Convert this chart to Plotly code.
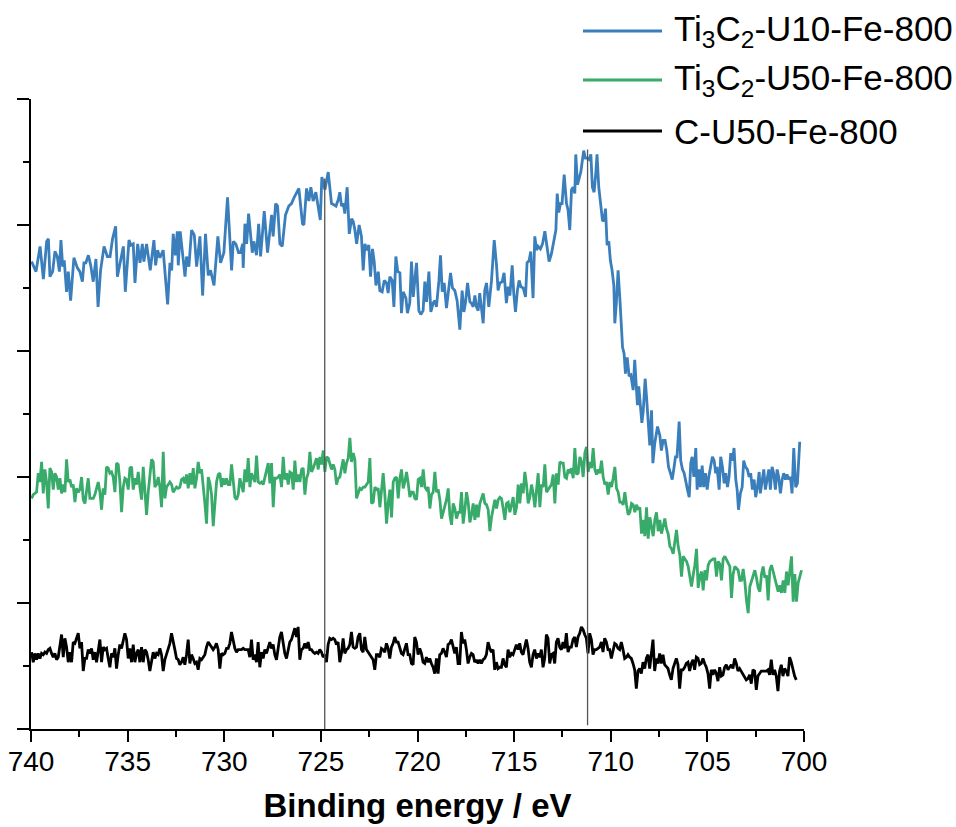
import numpy as np
import plotly.graph_objects as go

# Fe 2p XPS spectra, binding energy in eV, intensity in arbitrary units (stacked)

blue_ev = [
    739.97, 739.74, 739.53, 739.36, 739.19, 739.10, 739.02, 738.88, 738.76, 738.64,
    738.53, 738.45, 738.36, 738.28, 738.16, 738.07, 737.95, 737.78, 737.60, 737.47,
    737.34, 737.26, 737.16, 737.03, 736.91, 736.78, 736.64, 736.53, 736.40, 736.22,
    736.05, 735.91, 735.78, 735.62, 735.53, 735.40, 735.22, 735.12, 734.93, 734.83,
    734.71, 734.62, 734.48, 734.36, 734.24, 734.16, 734.02, 733.83, 733.64, 733.55,
    733.45, 733.33, 733.16, 732.93, 732.81, 732.72, 732.64, 732.53, 732.43, 732.38,
    732.28, 732.03, 731.95, 731.83, 731.69, 731.55, 731.43, 731.26, 731.12, 730.97,
    730.83, 730.71, 730.53, 730.33, 730.19, 730.02, 729.83, 729.62, 729.53, 729.40,
    729.26, 729.16, 729.05, 729.02, 728.93, 728.84, 728.74, 728.55, 728.47, 728.33,
    728.22, 728.12, 727.93, 727.76, 727.55, 727.47, 727.34, 727.24, 727.12, 727.00,
    726.83, 726.66, 726.52, 726.38, 726.14, 725.95, 725.88, 725.74, 725.62, 725.52,
    725.40, 725.26, 725.03, 724.95, 724.79, 724.62,
    724.53, 724.45, 724.33, 724.22, 724.10, 724.02, 723.93, 723.84, 723.76, 723.64,
    723.53, 723.41, 723.33, 723.24, 723.15, 723.02, 722.90, 722.81, 722.72, 722.64,
    722.52, 722.43, 722.33, 722.24, 722.15, 722.03, 721.95, 721.83, 721.72, 721.60,
    721.52, 721.43, 721.31, 721.22, 721.12, 721.02, 720.91, 720.83, 720.74, 720.60,
    720.52, 720.40, 720.31, 720.22, 720.14, 720.05, 719.93, 719.83, 719.71, 719.62,
    719.53, 719.41, 719.31, 719.19, 719.10, 719.02, 718.89, 718.81, 718.72, 718.62,
    718.50, 718.41, 718.29, 718.19, 718.07, 717.95, 717.81, 717.69, 717.60, 717.52,
    717.41, 717.29, 717.21, 717.12, 717.03, 716.95, 716.86, 716.78, 716.69, 716.60,
    716.52, 716.43, 716.31, 716.17, 716.03, 715.91, 715.83, 715.74, 715.62, 715.52,
    715.40, 715.31, 715.22, 715.10, 715.02, 714.93, 714.83, 714.74, 714.65, 714.53,
    714.41, 714.33, 714.22, 714.14, 714.02, 713.93, 713.84, 713.76, 713.64, 713.53,
    713.41, 713.29, 713.19, 713.07, 712.95, 712.84, 712.77, 712.69, 712.60, 712.52,
    712.41, 712.29, 712.21, 712.12, 712.03, 711.95, 711.86, 711.81, 711.72, 711.65,
    711.55, 711.48, 711.40, 711.31, 711.21, 711.12, 711.03, 710.95, 710.86, 710.77,
    710.71, 710.62, 710.52, 710.43, 710.36, 710.27, 710.19, 710.10, 710.02, 709.93,
    709.84, 709.79, 709.71, 709.62, 709.53,
    709.39, 709.31, 709.24, 709.15, 709.05, 708.96, 708.84, 708.76, 708.70, 708.62,
    708.55, 708.46, 708.39, 708.32, 708.22, 708.15, 708.07, 707.98, 707.89, 707.82,
    707.72, 707.58, 707.46, 707.38, 707.29, 707.19, 707.10, 707.01, 706.91, 706.82,
    706.74, 706.65, 706.57, 706.46, 706.38, 706.29, 706.20, 706.12, 706.03, 705.94,
    705.86, 705.79, 705.70, 705.60, 705.53, 705.44, 705.36, 705.27, 705.19, 705.10,
    705.01, 704.93, 704.84, 704.74, 704.65, 704.57, 704.50, 704.39, 704.31, 704.22,
    704.13, 704.05, 703.96, 703.88, 703.79, 703.70, 703.62, 703.53, 703.46, 703.39,
    703.29, 703.20, 703.12, 703.03, 702.93, 702.84, 702.76, 702.67, 702.58, 702.50,
    702.41, 702.32, 702.26, 702.17, 702.08, 702.00, 701.91, 701.82, 701.74, 701.65,
    701.57, 701.48, 701.39, 701.31, 701.22, 701.13, 701.05, 700.96, 700.88, 700.79,
    700.70, 700.62, 700.53, 700.43, 700.34, 700.22,
]

blue_int = [
    3.71, 3.63, 3.83, 3.57, 3.87, 3.89, 3.59, 3.63, 3.79, 3.75,
    3.63, 3.88, 3.67, 3.72, 3.47, 3.63, 3.40, 3.74, 3.66, 3.63,
    3.55, 3.70, 3.70, 3.76, 3.68, 3.55, 3.73, 3.35, 3.64, 3.83,
    3.75, 3.75, 3.89, 3.99, 3.59, 3.70, 3.83, 3.47, 3.88, 3.84,
    3.85, 3.54, 3.85, 3.70, 3.85, 3.71, 3.85, 3.64, 3.88, 3.68,
    3.80, 3.74, 3.80, 3.37, 3.70, 3.64, 3.93, 3.76, 3.95, 3.68,
    3.95, 3.59, 3.75, 3.67, 3.96, 3.92, 3.67, 3.91, 3.44, 3.93,
    3.60, 3.64, 3.52, 3.91, 3.70, 3.78, 4.22, 3.64, 3.87, 3.85,
    3.78, 3.78, 3.85, 3.66, 4.01, 3.85, 4.09, 3.78, 3.87, 3.76,
    4.01, 3.75, 4.11, 3.78, 4.08, 3.91, 4.17, 4.15, 3.85, 3.83,
    4.08, 4.15, 4.17, 4.22, 4.29, 4.01, 4.00, 4.29, 4.19, 4.30,
    4.19, 4.26, 4.04, 4.38, 4.28, 4.42,
    4.28, 4.17, 4.16, 4.15, 4.20, 4.26, 4.15, 4.17, 4.09, 4.30,
    3.93, 4.05, 4.03, 3.96, 3.85, 4.00, 3.91, 3.64, 3.85, 3.80,
    3.84, 3.59, 3.81, 3.71, 3.52, 3.63, 3.48, 3.47, 3.56, 3.54,
    3.46, 3.59, 3.56, 3.35, 3.75, 3.63, 3.62, 3.30, 3.47, 3.42,
    3.30, 3.38, 3.71, 3.43, 3.56, 3.70, 3.32, 3.29, 3.32, 3.55,
    3.39, 3.63, 3.31, 3.38, 3.40, 3.35, 3.56, 3.76, 3.47, 3.54,
    3.34, 3.48, 3.62, 3.50, 3.48, 3.40, 3.17, 3.48, 3.31, 3.38,
    3.54, 3.39, 3.38, 3.35, 3.44, 3.35, 3.32, 3.46, 3.32, 3.22,
    3.48, 3.54, 3.35, 3.56, 3.88, 3.68, 3.48, 3.54, 3.55, 3.62,
    3.38, 3.51, 3.44, 3.68, 3.46, 3.31, 3.48, 3.56, 3.51, 3.50,
    3.43, 3.70, 3.72, 3.79, 3.42, 3.91, 3.80, 3.83, 3.81, 3.85,
    3.95, 3.80, 3.71, 3.77, 3.87, 3.96, 4.25, 4.10, 4.17, 4.17,
    4.40, 4.17, 4.12, 3.96, 4.28, 4.30, 4.25, 4.56, 4.32, 4.37,
    4.42, 4.50, 4.59, 4.53, 4.53, 4.52, 4.56, 4.30, 4.26, 4.42,
    4.56, 4.30, 4.15, 4.04, 4.03, 4.13, 3.84, 3.87, 3.72, 3.64,
    3.52, 3.22, 3.38, 3.64, 3.42,
    3.03, 2.98, 2.82, 2.95, 2.80, 2.81, 2.69, 2.93, 2.74, 2.57,
    2.72, 2.58, 2.43, 2.52, 2.78, 2.64, 2.46, 2.25, 2.53, 2.11,
    2.27, 2.40, 2.33, 2.21, 2.29, 2.29, 2.21, 2.08, 2.03, 1.98,
    2.06, 2.16, 2.16, 2.44, 2.13, 2.06, 2.03, 1.98, 1.90, 1.84,
    2.11, 2.16, 2.00, 2.23, 1.90, 2.06, 1.92, 2.09, 1.92, 2.03,
    1.90, 2.00, 2.08, 2.16, 2.13, 2.03, 2.08, 1.90, 2.16, 2.08,
    1.95, 2.03, 1.92, 2.00, 2.19, 2.13, 2.23, 1.98, 1.90, 1.74,
    1.87, 1.92, 2.13, 2.08, 2.06, 2.00, 2.03, 1.90, 1.98, 1.84,
    1.92, 2.04, 1.87, 1.95, 2.06, 1.90, 2.00, 2.06, 1.90, 2.08,
    2.03, 1.90, 2.06, 2.00, 1.87, 1.98, 2.03, 1.98, 2.02, 1.98,
    2.00, 1.87, 2.23, 1.92, 1.95, 2.28,
]

green_int = [
    1.83, 1.86, 1.87, 1.88, 2.03, 1.96, 2.12, 1.87, 2.06, 1.96,
    1.75, 2.07, 2.04, 1.90, 2.03, 2.00, 1.90, 1.99, 1.87, 1.94,
    1.88, 2.14, 1.96, 1.98, 1.92, 1.94, 1.80, 1.91, 1.88, 1.90,
    2.00, 1.82, 1.79, 1.88, 1.99, 1.83, 1.83, 1.83, 1.86, 1.92,
    1.96, 1.88, 1.74, 1.91, 1.86, 2.08, 2.07, 2.03, 2.04, 2.00,
    1.88, 2.11, 2.10, 1.96, 1.72, 1.92, 1.99, 1.98, 1.90, 2.07,
    2.08, 1.90, 1.99, 1.94, 2.04, 1.92, 1.82, 2.08, 1.88, 1.70,
    1.88, 2.03, 2.14, 2.12, 1.92, 1.94, 2.00, 1.92, 1.76, 2.20,
    1.83, 1.92, 1.94, 1.96, 1.94, 1.88, 1.90, 1.92, 1.91, 1.92,
    1.98, 1.99, 1.95, 2.02, 1.91, 2.03, 1.94, 2.07, 1.91, 1.99,
    2.12, 2.03, 2.06, 1.94, 1.79, 1.63, 2.00, 1.95, 1.86, 1.61,
    1.79, 1.96, 2.02, 2.03, 1.92, 1.99, 1.94, 1.99, 1.94, 1.94,
    2.10, 1.98, 1.84, 1.82, 1.86, 1.99, 1.94, 1.88, 2.06, 1.96,
    2.15, 1.92, 2.03, 1.99, 1.96, 2.17, 1.96, 1.95, 1.96, 1.94,
    1.99, 2.04, 2.11, 1.95, 2.11, 1.76, 1.99, 1.99, 2.00, 2.02,
    1.92, 2.16, 1.98, 2.03, 1.94, 2.04, 2.03, 1.90, 2.13, 1.96,
    2.02, 1.96, 2.06, 2.07, 1.86, 1.99, 2.03, 2.20, 2.04, 2.07,
    2.11, 2.15, 2.06, 2.16, 2.10, 2.21, 2.04, 2.16, 2.15,
    2.11, 2.06, 2.10, 2.06, 1.94, 1.99, 2.00, 2.07, 2.14, 2.03,
    2.11, 2.15, 2.31, 2.12, 2.19, 2.14, 1.83, 1.87, 1.91, 1.90,
    1.92, 1.92, 1.94, 1.96, 2.15, 1.79, 1.80, 1.92, 1.90, 1.91,
    1.76, 1.92, 2.03, 1.86, 1.63, 1.79, 1.90, 1.68, 1.96, 1.99,
    2.00, 1.83, 1.99, 2.06, 1.91, 1.96, 2.04, 1.95, 1.84, 1.88,
    1.88, 1.83, 1.82, 1.98, 1.99, 1.92, 2.06, 1.92, 1.90, 1.92,
    1.75, 1.86, 1.88, 2.04, 1.88, 1.90, 1.82, 1.67, 1.72, 1.75,
    1.82, 1.91, 1.70, 1.62, 1.79, 1.75, 1.67, 1.72, 1.72, 1.88,
    1.63, 1.74, 1.88, 1.80, 1.64, 1.70, 1.79, 1.66, 1.78, 1.68,
    1.79, 1.83, 1.87, 1.79, 1.78, 1.74, 1.57, 1.68, 1.76, 1.82,
    1.75, 1.82, 1.84, 1.83, 1.75, 1.66, 1.79, 1.80, 1.72, 1.79,
    1.84, 1.70, 1.76, 1.94, 1.79, 1.95, 1.87, 2.04, 1.94, 1.79,
    1.84, 1.94, 1.87, 1.76, 1.92, 2.03, 1.76, 1.94, 1.92, 2.10,
    1.88, 1.90, 1.91, 1.94, 2.02, 1.79, 2.03, 1.94, 2.12, 2.11,
    2.11, 2.00, 1.99, 2.06, 2.03, 2.07, 1.99, 2.23, 2.02, 2.03,
    2.16, 2.12, 2.00, 2.19, 2.24, 2.04, 2.12, 2.07, 2.23, 2.06,
    2.02, 2.06, 2.03, 2.13, 2.00, 1.94, 1.96, 1.86, 1.96, 1.92,
    1.99, 2.08, 1.91, 1.88, 1.80, 1.80, 1.78, 1.88, 1.78, 1.70,
    1.72, 1.79, 1.78, 1.72, 1.78, 1.74, 1.76, 1.55, 1.66, 1.53,
    1.76, 1.51, 1.68, 1.59, 1.53, 1.66, 1.72, 1.57, 1.66, 1.55,
    1.61, 1.67, 1.59, 1.55, 1.45, 1.43, 1.39, 1.47, 1.58, 1.45,
    1.38, 1.21, 1.37, 1.35, 1.33, 1.29, 1.21, 1.13, 1.22, 1.30,
    1.43, 1.12, 1.21, 1.25, 1.10, 1.26, 1.18, 1.30, 1.33, 1.34,
    1.35, 1.35, 1.21, 1.33, 1.31, 1.18, 1.35, 1.37, 1.34, 1.31,
    1.29, 1.04, 1.23, 1.29, 1.27, 1.26, 1.18, 1.18, 1.27, 1.17,
    1.02, 0.92, 1.13, 1.18, 1.23, 1.26, 1.20, 1.12, 1.09, 1.23,
    1.29, 1.20, 1.22, 1.02, 1.26, 1.30, 1.25, 1.20, 1.14, 1.09,
    1.14, 1.08, 1.18, 1.08, 1.25, 1.14, 1.25, 1.37, 1.01, 1.23,
    1.01, 1.16, 1.21, 1.26,
]

black_int = [
    0.61, 0.53, 0.60, 0.55, 0.60, 0.56, 0.60, 0.59, 0.61, 0.60,
    0.63, 0.64, 0.60, 0.57, 0.60, 0.55, 0.57, 0.68, 0.75, 0.57,
    0.72, 0.65, 0.53, 0.61, 0.53, 0.69, 0.68, 0.72, 0.76, 0.64,
    0.69, 0.46, 0.56, 0.56, 0.63, 0.60, 0.64, 0.55, 0.61, 0.53,
    0.63, 0.71, 0.53, 0.65, 0.63, 0.64, 0.56, 0.49, 0.60, 0.57,
    0.64, 0.48, 0.59, 0.67, 0.64, 0.69, 0.76, 0.71, 0.56, 0.64,
    0.53, 0.67, 0.53, 0.60, 0.63, 0.53, 0.65, 0.53, 0.63, 0.61,
    0.55, 0.46, 0.55, 0.61, 0.56, 0.60, 0.59, 0.64, 0.59, 0.46,
    0.55, 0.60, 0.64, 0.68, 0.76, 0.68, 0.63, 0.56, 0.55, 0.51,
    0.53, 0.57, 0.51, 0.59, 0.71, 0.52, 0.59, 0.56, 0.52, 0.53,
    0.47, 0.56, 0.55, 0.57, 0.59, 0.65, 0.69, 0.67, 0.65, 0.63,
    0.65, 0.68, 0.63, 0.48, 0.60, 0.59, 0.60, 0.64, 0.64, 0.68,
    0.77, 0.69, 0.64, 0.61, 0.63, 0.63, 0.63, 0.64, 0.63, 0.63,
    0.63, 0.57, 0.71, 0.55, 0.59, 0.53, 0.69, 0.49, 0.61, 0.56,
    0.63, 0.60, 0.65, 0.69, 0.64, 0.67, 0.59, 0.55, 0.64, 0.73,
    0.77, 0.67, 0.60, 0.56, 0.64, 0.69, 0.71, 0.75, 0.80, 0.73,
    0.81, 0.55, 0.63, 0.64, 0.68, 0.64, 0.69, 0.63, 0.63, 0.61,
    0.60, 0.61, 0.60, 0.63, 0.61, 0.57, 0.59, 0.53, 0.67, 0.72,
    0.71, 0.72, 0.71, 0.67, 0.69, 0.53, 0.60, 0.72, 0.60, 0.63,
    0.64, 0.67, 0.77, 0.65, 0.64, 0.65, 0.73, 0.76, 0.63, 0.61,
    0.73, 0.63, 0.61, 0.59, 0.56, 0.55, 0.47, 0.59, 0.59, 0.57,
    0.64, 0.63, 0.61, 0.68, 0.64, 0.56, 0.65, 0.68, 0.73, 0.69,
    0.69, 0.64, 0.60, 0.59, 0.63, 0.68, 0.59, 0.59, 0.52, 0.51,
    0.73, 0.69, 0.59, 0.64, 0.60, 0.53, 0.52, 0.57, 0.53, 0.56,
    0.52, 0.49, 0.44, 0.56, 0.44, 0.59, 0.60, 0.64, 0.61, 0.57,
    0.67, 0.68, 0.71, 0.64, 0.60, 0.65, 0.52, 0.52, 0.77, 0.68,
    0.71, 0.63, 0.52, 0.57, 0.60, 0.59, 0.53, 0.55, 0.52,
    0.55, 0.52, 0.55, 0.56, 0.59, 0.69, 0.64, 0.61, 0.63, 0.47,
    0.53, 0.48, 0.49, 0.49, 0.56, 0.51, 0.49, 0.63, 0.57, 0.60,
    0.59, 0.63, 0.67, 0.63, 0.68, 0.61, 0.59, 0.65, 0.71, 0.64,
    0.53, 0.49, 0.59, 0.63, 0.56, 0.60, 0.57, 0.63, 0.49, 0.56,
    0.75, 0.72, 0.52, 0.59, 0.60, 0.52, 0.69, 0.72, 0.65, 0.63,
    0.69, 0.64, 0.76, 0.61, 0.65, 0.65, 0.71, 0.73, 0.65, 0.73,
    0.76, 0.81, 0.79, 0.75, 0.72, 0.60, 0.76, 0.71, 0.59, 0.63,
    0.63, 0.64, 0.65, 0.69, 0.61, 0.72, 0.69, 0.63, 0.63, 0.56,
    0.63, 0.68, 0.67, 0.64, 0.63, 0.69, 0.63, 0.56, 0.57, 0.59,
    0.57, 0.56, 0.52, 0.47, 0.32, 0.46, 0.48, 0.44, 0.53, 0.48,
    0.56, 0.59, 0.48, 0.60, 0.71, 0.46, 0.56, 0.52, 0.60, 0.52,
    0.59, 0.51, 0.49, 0.48, 0.43, 0.39, 0.48, 0.52, 0.56, 0.51,
    0.32, 0.47, 0.47, 0.49, 0.52, 0.53, 0.46, 0.52, 0.55, 0.47,
    0.57, 0.56, 0.51, 0.52, 0.56, 0.52, 0.49, 0.44, 0.32, 0.47,
    0.43, 0.47, 0.44, 0.38, 0.49, 0.42, 0.43, 0.49, 0.51, 0.47,
    0.49, 0.51, 0.48, 0.56, 0.52, 0.46, 0.48, 0.46, 0.44, 0.42,
    0.39, 0.40, 0.43, 0.36, 0.47, 0.46, 0.31, 0.42, 0.44, 0.46,
    0.46, 0.46, 0.46, 0.47, 0.43, 0.55, 0.43, 0.47, 0.42, 0.30,
    0.46, 0.51, 0.42, 0.48, 0.46, 0.42, 0.57, 0.53, 0.46, 0.42,
    0.39,
]

# the two lower spectra were recorded on a uniform energy step
green_ev = np.linspace(739.97, 700.13, len(green_int))
black_ev = np.linspace(739.97, 700.40, len(black_int))

series_names = [
    "Ti<sub>3</sub>C<sub>2</sub>-U10-Fe-800",
    "Ti<sub>3</sub>C<sub>2</sub>-U50-Fe-800",
    "C-U50-Fe-800",
]
series_colors = ["#3a7ebc", "#38ab6a", "#000000"]

# Fe 2p1/2 and Fe 2p3/2 peak markers
peak_ev = [724.8, 711.2]
peak_low = [0.0, 0.03]
peak_high = [4.37, 4.60]

FONT = "Arial, 'Liberation Sans', sans-serif"

fig = go.Figure()
for ev, inten, name, color in zip(
    [blue_ev, green_ev, black_ev],
    [blue_int, green_int, black_int],
    series_names,
    series_colors,
):
    fig.add_trace(go.Scatter(
        x=ev, y=inten, mode="lines", name=name,
        line=dict(color=color, width=2.8), showlegend=False,
    ))

for e, lo, hi in zip(peak_ev, peak_low, peak_high):
    fig.add_trace(go.Scatter(
        x=[e, e], y=[lo, hi], mode="lines",
        line=dict(color="#555555", width=1.3), showlegend=False,
    ))

# legend drawn as line swatches plus labels to the upper right
legend_y = [1.1079, 1.0302, 0.9492]
for name, color, y in zip(series_names, series_colors, legend_y):
    fig.add_shape(type="line", xref="paper", yref="paper",
                  x0=0.7141, x1=0.8163, y0=y, y1=y,
                  line=dict(color=color, width=3))
    fig.add_annotation(xref="paper", yref="paper", x=0.8292, y=y,
                       xanchor="left", yanchor="middle", text=name,
                       showarrow=False, font=dict(family=FONT, size=35, color="black"))

fig.update_layout(
    width=956, height=827,
    margin=dict(l=31, r=152, t=99, b=98),
    plot_bgcolor="white", paper_bgcolor="white",
    font=dict(family=FONT, color="black"),
    showlegend=False,
    xaxis=dict(
        range=[740, 700], tickmode="linear", tick0=700, dtick=5,
        ticks="outside", ticklen=11, tickwidth=2, tickcolor="black",
        ticklabelstandoff=-5,
        showline=True, linecolor="black", linewidth=2,
        showgrid=False, zeroline=False, automargin=False,
        tickfont=dict(family=FONT, size=28, color="black"),
        minor=dict(tick0=700, dtick=2.5, ticks="outside", ticklen=6,
                   tickwidth=2, tickcolor="black", showgrid=False),
        title=dict(text="<b>Binding energy / eV</b>",
                   font=dict(family=FONT, size=33, color="black"), standoff=18),
    ),
    yaxis=dict(
        range=[0, 5], tickmode="linear", tick0=0, dtick=1,
        ticks="outside", ticklen=12, tickwidth=2, tickcolor="black",
        showticklabels=False, automargin=False,
        showline=True, linecolor="black", linewidth=2,
        showgrid=False, zeroline=False,
        minor=dict(tick0=0, dtick=0.5, ticks="outside", ticklen=6,
                   tickwidth=2, tickcolor="black", showgrid=False),
    ),
)

fig.write_html("out.html")
